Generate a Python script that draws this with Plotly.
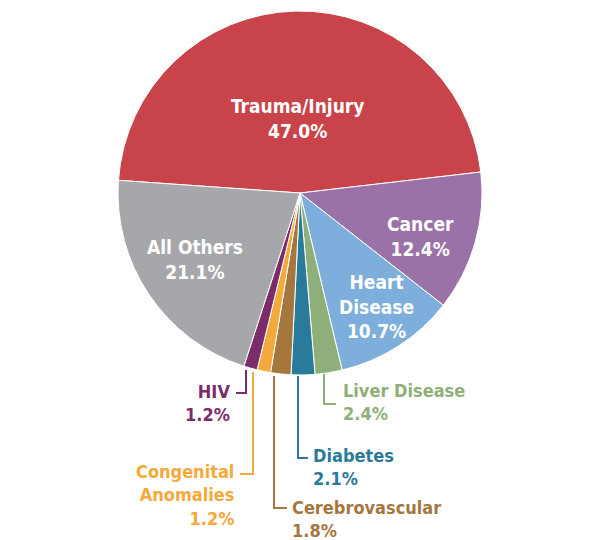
import plotly.graph_objects as go

labels = ["Trauma/Injury", "Cancer", "Heart Disease", "Liver Disease", "Diabetes",
          "Cerebrovascular", "Congenital Anomalies", "HIV", "All Others"]
values = [47.0, 12.4, 10.7, 2.4, 2.1, 1.8, 1.2, 1.2, 21.1]
colors = ["#C9434A", "#9B72A8", "#7EAEDB", "#8FAF7A", "#2A7A9B",
          "#A4773F", "#F3A93B", "#7B2D6B", "#A6A7AA"]

W, H = 589, 540
def px(x, y):
    return x / W, 1 - y / H

fig = go.Figure(go.Pie(
    labels=labels, values=values, sort=False, direction="clockwise", rotation=-86,
    marker=dict(colors=colors, line=dict(color="white", width=1)),
    textinfo="none", hoverinfo="label+percent",
    domain=dict(x=[110 / W, 474 / W], y=[1 - 370 / H, 1]),
    showlegend=False,
))

FONT = "DejaVu Sans Condensed, Liberation Sans Narrow, Arial Narrow, sans-serif"
ann = []
def label(x, y, text, color, align="center", xanchor="center", size=19):
    X, Y = px(x, y)
    ann.append(dict(x=X, y=Y, xref="paper", yref="paper", text=f"<b>{text}</b>", showarrow=False,
                    font=dict(family=FONT, size=size, color=color), align=align,
                    xanchor=xanchor, yanchor="middle"))

label(289, 111, f"{labels[0]}<br>{values[0]:.1f}%", "white")
label(412, 228, f"{labels[1]}<br>{values[1]:.1f}%", "white")
label(368, 298, f"Heart<br>Disease<br>{values[2]:.1f}%", "white")
label(187, 251, f"{labels[8]}<br>{values[8]:.1f}%", "white")
label(333, 394, f"{labels[3]}<br>{values[3]:.1f}%", colors[3], "left", "left", 18)
label(303, 459, f"{labels[4]}<br>{values[4]:.1f}%", colors[4], "left", "left", 18)
label(282, 511, f"{labels[5]}<br>{values[5]:.1f}%", colors[5], "left", "left", 18)
label(228, 487, f"Congenital<br>Anomalies<br>{values[6]:.1f}%", colors[6], "right", "right", 18)
label(224, 395, f"{labels[7]}<br>{values[7]:.1f}%", colors[7], "right", "right", 18)

lines = [
    ([(316, 366), (316, 396), (328, 396)], colors[3]),
    ([(290, 368), (290, 450), (300, 450)], colors[4]),
    ([(266, 368), (266, 500), (279, 500)], colors[5]),
    ([(245, 364), (245, 466), (232, 466)], colors[6]),
    ([(238, 362), (238, 385), (228, 385)], colors[7]),
]
shapes = []
for pts, c in lines:
    path = "M " + " L ".join(f"{px(x, y)[0]},{px(x, y)[1]}" for x, y in pts)
    shapes.append(dict(type="path", path=path, xref="paper", yref="paper",
                       line=dict(color=c, width=2)))

fig.update_layout(width=W, height=H, margin=dict(l=0, r=0, t=0, b=0),
                  paper_bgcolor="white", plot_bgcolor="white",
                  annotations=ann, shapes=shapes)
fig.write_html("out.html")
